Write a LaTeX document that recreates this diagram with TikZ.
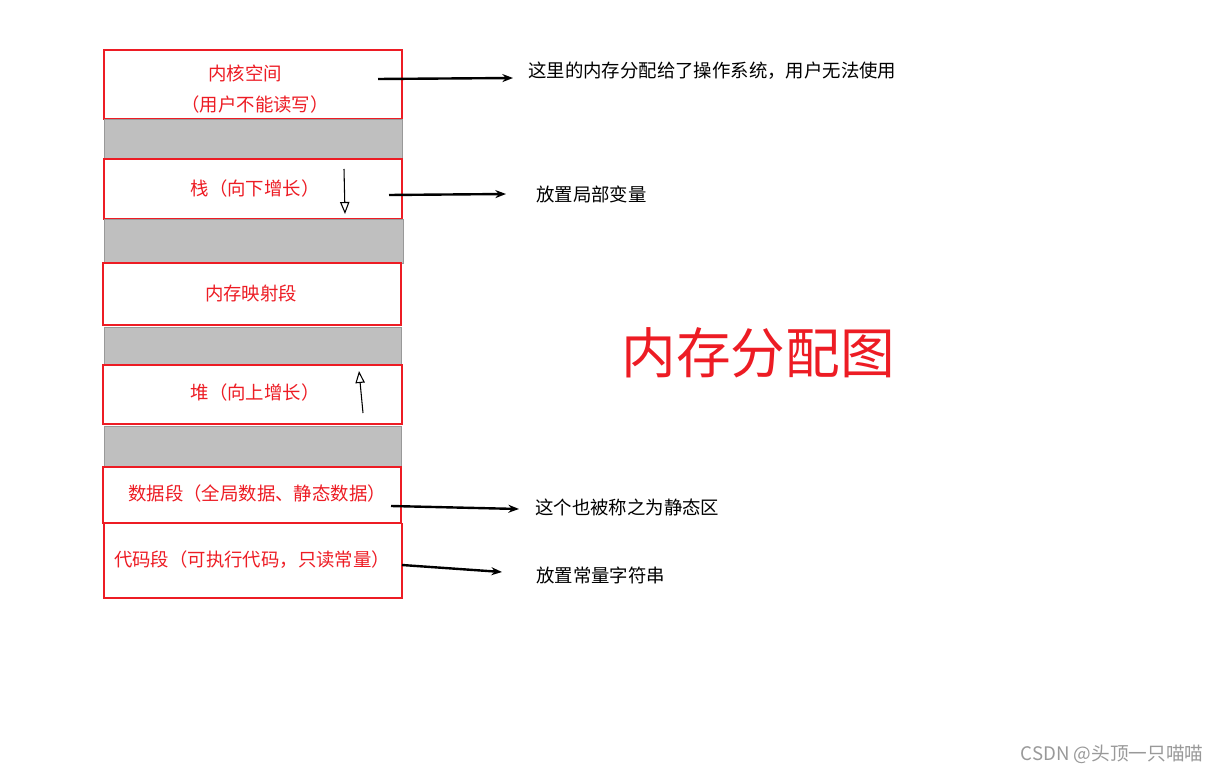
\documentclass[tikz,border=0pt]{standalone}
\usepackage{fontspec}
\setmainfont{Noto Sans CJK SC}
\usetikzlibrary{arrows.meta}
\definecolor{myred}{RGB}{237,28,36}
\begin{document}
\begin{tikzpicture}[x=0.75pt,y=-0.75pt,
  seg/.style={draw=myred,line width=1.2pt,fill=white},
  gap/.style={draw=gray!80,fill=black!25,line width=0.6pt},
  lbl/.style={text=myred,font=\fontsize{13.8}{15}\selectfont,inner sep=0},
  note/.style={text=black,font=\fontsize{13.8}{15}\selectfont,anchor=west,inner sep=0},
  arr/.style={line width=1.8pt,-{Stealth[length=8pt,width=6pt]}},
  oarr/.style={line width=0.8pt,-{Triangle[open,length=9pt,width=7pt]}}]
\useasboundingbox (0,0) rectangle (1223,773);
\filldraw[seg] (104,50) rectangle (402,119);
\filldraw[gap] (104,119) rectangle (402,159);
\filldraw[seg] (104,159) rectangle (402,219);
\filldraw[gap] (104,219) rectangle (403,263);
\filldraw[seg] (103,263) rectangle (401,325);
\filldraw[gap] (104,327) rectangle (401,365);
\filldraw[seg] (103,365) rectangle (402,424);
\filldraw[gap] (104,426) rectangle (401,466);
\filldraw[seg] (103,467) rectangle (401,523);
\draw[myred,line width=1.2pt] (104,523) -- (104,598) -- (402,598) -- (402,523);
\node[lbl] (k1) at (245,73) {内核空间};
\node[lbl] (k2) at (255,105) {（用户不能读写）};
\node[lbl] (st) at (255,189) {栈（向下增长）};
\node[lbl] (mm) at (251,293) {内存映射段};
\node[lbl] (hp) at (255,393) {堆（向上增长）};
\node[lbl] (dt) at (257,494) {数据段（全局数据、静态数据）};
\node[lbl] (cd) at (252,560) {代码段（可执行代码，只读常量）};
\node[note] (n1) at (528,71) {这里的内存分配给了操作系统，用户无法使用};
\node[note] (n2) at (536,194) {放置局部变量};
\node[note] (n3) at (535,507) {这个也被称之为静态区};
\node[note] (n4) at (536,575) {放置常量字符串};
\coordinate (a1) at (378,79); \coordinate (b1) at (513,78);
\coordinate (a2) at (389,195); \coordinate (b2) at (506,194);
\coordinate (a3) at (391,506); \coordinate (b3) at (519,509);
\coordinate (a4) at (402,565); \coordinate (b4) at (502,572);
\draw[arr] (a1) -- (b1);
\draw[arr] (a2) -- (b2);
\draw[arr] (a3) -- (b3);
\draw[arr] (a4) -- (b4);
\coordinate (s1) at (344,169); \coordinate (s2) at (345,214);
\coordinate (h1) at (363,413); \coordinate (h2) at (359,371);
\draw[oarr] (s1) -- (s2);
\draw[oarr] (h1) -- (h2);
\node[text=myred,font=\fontsize{41}{46}\selectfont,inner sep=0] (t) at (758,353) {内存分配图};
\node[text=black!40,font=\fontsize{14}{16}\selectfont,inner sep=0] (w) at (1112,754) {CSDN @头顶一只喵喵};
\end{tikzpicture}
\end{document}
